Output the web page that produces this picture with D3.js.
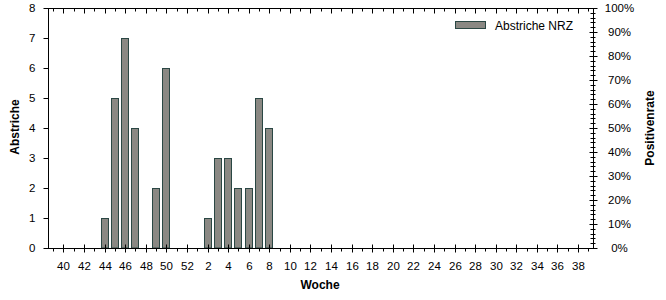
<!DOCTYPE html>
<html><head><meta charset="utf-8">
<script src="https://cdn.jsdelivr.net/npm/d3@7"></script>
<style>
body{margin:0;background:#fff;}
text{font-family:"Liberation Sans",Arial,sans-serif;fill:#000;}
</style></head>
<body>
<svg id="c" width="666" height="300"></svg>
<script>
// Data
const weeks = [39,40,41,42,43,44,45,46,47,48,49,50,51,52,1,2,3,4,5,6,7,8,9,10,11,12,13,14,15,16,17,18,19,20,21,22,23,24,25,26,27,28,29,30,31,32,33,34,35,36,37,38,39];
const abstriche = [null,null,null,null,null,1,5,7,4,null,2,6,null,null,null,1,3,3,2,2,5,4,null,null,null,null,null,null,null,null,null,null,null,null,null,null,null,null,null,null,null,null,null,null,null,null,null,null,null,null,null,null,null];
const leftTicks = [0,1,2,3,4,5,6,7,8];
const rightTicks = [0,0.1,0.2,0.3,0.4,0.5,0.6,0.7,0.8,0.9,1.0];
const seriesName = "Abstriche NRZ";

const svg = d3.select("#c");
const L = 48.5, R = 593.5, T = 8, B = 248;
const idx = d3.range(weeks.length);
const x = d3.scaleBand().domain(idx).range([48, 593.5]).paddingInner(0.22).paddingOuter(0.11);
const y = d3.scaleLinear().domain([0,8]).range([B,T]);
const y2 = d3.scaleLinear().domain([0,1]).range([B,T]);
const cx = i => x(i) + x.bandwidth()/2;
const isMajor = i => i % 2 === 1;

// bars
svg.append("g").selectAll("rect").data(idx.filter(i => abstriche[i] != null)).join("rect")
  .attr("x", i => Math.round(x(i)) + 0.5)
  .attr("y", i => Math.round(y(abstriche[i])) + 0.5)
  .attr("width", Math.round(x.bandwidth()) - 1)
  .attr("height", i => B - Math.round(y(abstriche[i])) - 0.5)
  .attr("fill", "#8a8883").attr("stroke", "#2a4744").attr("stroke-width", 1);

// bottom axis
const gb = svg.append("g").attr("transform", `translate(0,${B})`)
  .call(d3.axisBottom(x).tickValues(idx).tickFormat(i => isMajor(i) ? String(weeks[i]) : "").tickSizeOuter(0));
gb.select(".domain").remove();
gb.selectAll(".tick line").attr("stroke", "#000")
  .attr("y1", i => isMajor(i) ? -4 : 0).attr("y2", i => isMajor(i) ? 4 : 3);
gb.selectAll(".tick text").attr("y", 13.5).attr("font-size", "11.5px").attr("font-family", null);
gb.append("line").attr("x1", 44).attr("x2", 595).attr("y1", 0.5).attr("y2", 0.5).attr("stroke", "#000");
gb.selectAll(".tick").attr("transform", i => `translate(${Math.round(cx(i)) + 0.5},0.5)`);

// top axis
const gt = svg.append("g").attr("transform", `translate(0,${T})`)
  .call(d3.axisTop(x).tickValues(idx).tickFormat("").tickSizeOuter(0));
gt.select(".domain").remove();
gt.selectAll(".tick line").attr("stroke", "#000").attr("y1", 0).attr("y2", i => isMajor(i) ? 5 : 3);
gt.selectAll(".tick").attr("transform", i => `translate(${Math.round(cx(i)) + 0.5},0.5)`);
gt.append("line").attr("x1", 44).attr("x2", 594).attr("y1", 0.5).attr("y2", 0.5).attr("stroke", "#000");

// left axis
const gl = svg.append("g").attr("transform", `translate(${L},0)`)
  .call(d3.axisLeft(y).tickValues(leftTicks).tickFormat(d3.format("d")).tickSize(5).tickSizeOuter(0));
gl.select(".domain").remove();
gl.append("line").attr("x1", 0).attr("x2", 0).attr("y1", T).attr("y2", B).attr("stroke", "#000");
gl.selectAll(".tick").attr("transform", d => `translate(0,${Math.round(y(d)) + 0.5})`);
gl.selectAll(".tick line").attr("stroke", "#000");
gl.selectAll(".tick text").attr("x", -13).attr("font-size", "11.5px").attr("font-family", null);

// right axis
const gr = svg.append("g").attr("transform", `translate(${R},0)`)
  .call(d3.axisRight(y2).tickValues(rightTicks).tickFormat(d3.format(".0%")).tickSize(4).tickSizeOuter(0));
gr.select(".domain").remove();
gr.append("line").attr("x1", 0).attr("x2", 0).attr("y1", T).attr("y2", B).attr("stroke", "#000");
gr.selectAll(".tick").attr("transform", d => `translate(0,${Math.round(y2(d)) + 0.5})`);
gr.selectAll(".tick line").attr("stroke", "#000").attr("x1", -4).attr("x2", 4);
gr.selectAll(".tick text").attr("x", 26).attr("text-anchor", "middle").attr("font-size", "11.5px").attr("font-family", null);
const minor = d3.range(0, 1.0001, 0.02).filter(v => Math.abs(v*10 - Math.round(v*10)) > 1e-6);
gr.append("g").selectAll("line").data(minor).join("line")
  .attr("x1", -3).attr("x2", 2)
  .attr("y1", d => Math.round(y2(d)) + 0.5).attr("y2", d => Math.round(y2(d)) + 0.5)
  .attr("stroke", "#000");

// axis titles
svg.append("text").attr("transform", "translate(19,127) rotate(-90)").attr("text-anchor", "middle")
  .attr("font-size", "12px").attr("font-weight", "bold").text("Abstriche");
svg.append("text").attr("transform", "translate(654,128) rotate(-90)").attr("text-anchor", "middle")
  .attr("font-size", "12px").attr("font-weight", "bold").text("Positivenrate");
svg.append("text").attr("x", 320).attr("y", 289).attr("text-anchor", "middle")
  .attr("font-size", "12px").attr("font-weight", "bold").text("Woche");

// legend
const lg = svg.append("g");
lg.append("rect").attr("x", 455.5).attr("y", 21.5).attr("width", 30).attr("height", 7)
  .attr("fill", "#8a8883").attr("stroke", "#2a4744");
lg.append("text").attr("x", 495).attr("y", 30).attr("font-size", "12px").text(seriesName);
</script>
</body></html>
